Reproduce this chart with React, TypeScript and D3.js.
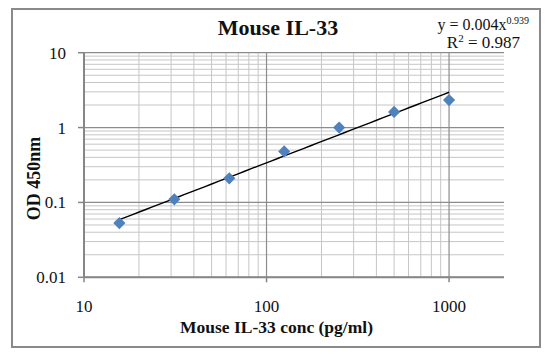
import React from "react";
import * as d3 from "d3";

const concentrations = [15.625, 31.25, 62.5, 125, 250, 500, 1000];
const odValues = [0.053, 0.11, 0.21, 0.48, 1.0, 1.62, 2.33];
const xTicks = [10, 100, 1000];
const yTicks = [0.01, 0.1, 1, 10];
const titleText = "Mouse IL-33";
const xTitle = "Mouse IL-33 conc (pg/ml)";
const yTitle = "OD 450nm";
const eqMain = "y = 0.004x";
const eqExp = "0.939";
const r2Value = "0.987";

const W = 554;
const H = 355;
const M = { left: 84, right: 504, top: 52.7, bottom: 277.3 };
const FONT = "'Liberation Serif', 'Times New Roman', serif";

export default function App() {
  const x = d3.scaleLog().domain([10, 2000]).range([M.left, M.right]);
  const y = d3.scaleLog().domain([0.01, 10]).range([M.bottom, M.top]);

  const xMinor: number[] = [];
  for (const dec of [10, 100, 1000]) {
    for (let k = 2; k <= 9; k++) {
      const v = dec * k;
      if (v < 2000) xMinor.push(v);
    }
  }
  const yMinor: number[] = [];
  for (const dec of [0.01, 0.1, 1]) {
    for (let k = 2; k <= 9; k++) yMinor.push(dec * k);
  }

  // power fit (least squares in log space)
  const lx = concentrations.map(Math.log10);
  const ly = odValues.map(Math.log10);
  const mx = d3.mean(lx)!;
  const my = d3.mean(ly)!;
  const b = d3.sum(lx, (v, i) => (v - mx) * (ly[i] - my)) / d3.sum(lx, (v) => (v - mx) ** 2);
  const a = Math.pow(10, my - b * mx);
  const fit = (c: number) => a * Math.pow(c, b);
  const xMin = d3.min(concentrations)!;
  const xMax = d3.max(concentrations)!;
  const fitPts = d3.range(0, 51).map((i) => {
    const c = Math.pow(10, Math.log10(xMin) + (i / 50) * (Math.log10(xMax) - Math.log10(xMin)));
    return [c, fit(c)] as [number, number];
  });
  const line = d3
    .line<[number, number]>()
    .x((d) => x(d[0]))
    .y((d) => y(d[1]));

  const diamond = d3.symbol(d3.symbolSquare, 74)()!;

  const minorColor = "#c6c6c6";
  const majorColor = "#8c8c8c";
  const axisColor = "#868686";

  return (
    <svg
      width={W}
      height={H}
      style={{ position: "absolute", left: 0, top: 0, background: "#fff" }}
      fontFamily={FONT}
    >
      <rect x={0} y={0} width={W} height={H} fill="#fff" />
      <rect x={12} y={9} width={528} height={338} fill="#fff" stroke="#8a8a8a" strokeWidth={2} />

      {xMinor.map((v) => (
        <line key={"xm" + v} x1={x(v)} x2={x(v)} y1={M.top} y2={M.bottom} stroke={minorColor} strokeWidth={1} />
      ))}
      {yMinor.map((v) => (
        <line key={"ym" + v} x1={M.left} x2={M.right} y1={y(v)} y2={y(v)} stroke={minorColor} strokeWidth={1} />
      ))}
      {xTicks.map((v) => (
        <line key={"xM" + v} x1={x(v)} x2={x(v)} y1={M.top} y2={M.bottom} stroke={majorColor} strokeWidth={1.2} />
      ))}
      {yTicks.map((v) => (
        <line key={"yM" + v} x1={M.left} x2={M.right} y1={y(v)} y2={y(v)} stroke={majorColor} strokeWidth={1.2} />
      ))}

      <line x1={M.left} x2={M.left} y1={M.top} y2={M.bottom} stroke={axisColor} strokeWidth={2} />
      <line x1={M.left} x2={M.right} y1={M.bottom} y2={M.bottom} stroke={axisColor} strokeWidth={2} />
      {yTicks.map((v) => (
        <line key={"yt" + v} x1={M.left - 6} x2={M.left} y1={y(v)} y2={y(v)} stroke={axisColor} strokeWidth={1.5} />
      ))}
      {xTicks.map((v) => (
        <line key={"xt" + v} x1={x(v)} x2={x(v)} y1={M.bottom} y2={M.bottom + 5} stroke={axisColor} strokeWidth={1.5} />
      ))}

      {yTicks.map((v) => (
        <text key={"yl" + v} x={66} y={y(v)} dy="0.35em" textAnchor="end" fontSize={17} fill="#111">
          {String(v)}
        </text>
      ))}
      {xTicks.map((v) => (
        <text key={"xl" + v} x={x(v)} y={312} textAnchor="middle" fontSize={17} fill="#111">
          {String(v)}
        </text>
      ))}

      <path d={line(fitPts)!} fill="none" stroke="#000" strokeWidth={1.4} />

      {concentrations.map((c, i) => (
        <path
          key={"p" + i}
          d={diamond}
          transform={`translate(${x(c)},${y(odValues[i])}) rotate(45)`}
          fill="#4f81bd"
        />
      ))}

      <text x={278} y={35} textAnchor="middle" fontSize={22} fontWeight="bold" fill="#111">
        {titleText}
      </text>
      <text x={276.5} y={333} textAnchor="middle" fontSize={17.5} fontWeight="bold" fill="#111">
        {xTitle}
      </text>
      <text
        transform={`translate(40,178.5) rotate(-90)`}
        textAnchor="middle"
        fontSize={18}
        fontWeight="bold"
        fill="#111"
      >
        {yTitle}
      </text>

      <text x={529} y={29.5} textAnchor="end" fontSize={16} fill="#111">
        {eqMain}
        <tspan fontSize={10} dy={-6}>{eqExp}</tspan>
      </text>
      <text x={520} y={48} textAnchor="end" fontSize={17} fill="#111">
        R<tspan fontSize={11} dy={-6}>2</tspan>
        <tspan dy={6}>{" = " + r2Value}</tspan>
      </text>
    </svg>
  );
}
